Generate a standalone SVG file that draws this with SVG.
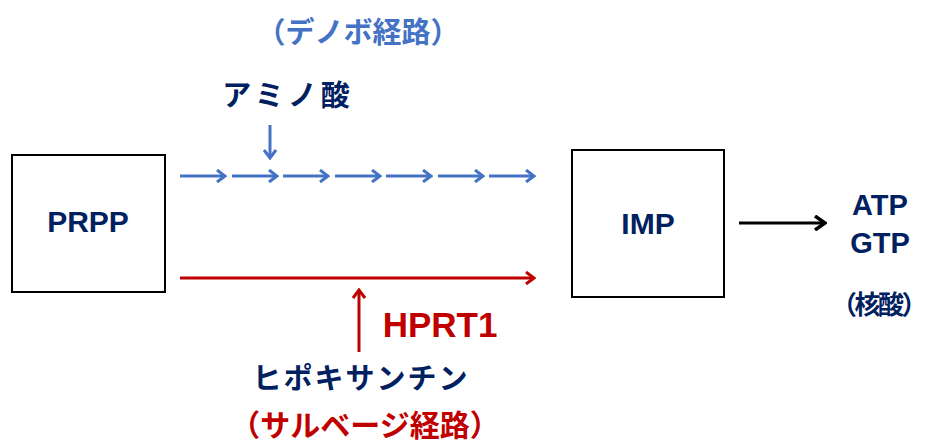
<svg xmlns="http://www.w3.org/2000/svg" width="925" height="444" viewBox="0 0 925 444">
<style>
.box{fill:#fff;stroke:#000;stroke-width:2}
.lbl{font-family:"Liberation Sans",Arial,sans-serif;font-weight:bold;fill:#002060;text-anchor:middle}
.jp{font-family:"Noto Sans CJK JP","Noto Sans",sans-serif;font-weight:bold;text-anchor:middle}
.blue{stroke:#4472C4;stroke-width:3;fill:none}
.red{stroke:#C00000;stroke-width:3;fill:none}
.blk{stroke:#000;stroke-width:3;fill:none}
</style>
<defs>
<marker id="hb" markerUnits="userSpaceOnUse" viewBox="0 0 12 14" markerWidth="12" markerHeight="14" refX="10" refY="7" orient="auto">
<path d="M2,1 L10,7 L2,13" fill="none" stroke="#4472C4" stroke-width="3"/>
</marker>
<marker id="hr" markerUnits="userSpaceOnUse" viewBox="0 0 12 14" markerWidth="12" markerHeight="14" refX="10" refY="7" orient="auto">
<path d="M2,1 L10,7 L2,13" fill="none" stroke="#C00000" stroke-width="3"/>
</marker>
<marker id="hk" markerUnits="userSpaceOnUse" viewBox="0 0 14 16" markerWidth="14" markerHeight="16" refX="12" refY="8" orient="auto">
<path d="M2,1 L12,8 L2,15" fill="none" stroke="#000" stroke-width="3.5"/>
</marker>
</defs>
<g id="prpp">
<rect class="box" x="12" y="155" width="153" height="137"/>
<text class="lbl" x="88" y="232" font-size="30">PRPP</text>
</g>
<g id="imp">
<rect class="box" x="572" y="150" width="152" height="147"/>
<text class="lbl" x="648" y="234" font-size="30">IMP</text>
</g>
<g id="products">
<text class="lbl" x="880" y="215" font-size="29">ATP</text>
<text class="lbl" x="880" y="253" font-size="29">GTP</text>
<text class="jp" x="878" y="314" font-size="26" fill="#002060" letter-spacing="-2.5">（核酸）</text>
</g>
<g id="denovo-label">
<text class="jp" x="358" y="43" font-size="29" fill="#4472C4">（デノボ経路）</text>
</g>
<g id="amino">
<text class="jp" x="288" y="106" font-size="29" fill="#002060" letter-spacing="4">アミノ酸</text>
</g>
<g id="hypoxanthine">
<text class="jp" x="361" y="389" font-size="29" fill="#002060" letter-spacing="2">ヒポキサンチン</text>
</g>
<g id="salvage-label">
<text class="jp" x="365" y="436" font-size="30" fill="#C00000">（サルベージ経路）</text>
</g>
<g id="hprt1">
<text class="lbl" x="440" y="337" font-size="35" style="fill:#C00000">HPRT1</text>
</g>
<g id="connectors">
<line class="blue" x1="180" y1="176" x2="225" y2="176" marker-end="url(#hb)"/>
<line class="blue" x1="232" y1="176" x2="277" y2="176" marker-end="url(#hb)"/>
<line class="blue" x1="283" y1="176" x2="328" y2="176" marker-end="url(#hb)"/>
<line class="blue" x1="335" y1="176" x2="380" y2="176" marker-end="url(#hb)"/>
<line class="blue" x1="386" y1="176" x2="431" y2="176" marker-end="url(#hb)"/>
<line class="blue" x1="438" y1="176" x2="483" y2="176" marker-end="url(#hb)"/>
<line class="blue" x1="489" y1="176" x2="534" y2="176" marker-end="url(#hb)"/>
<line class="blue" x1="270" y1="125" x2="270" y2="158" marker-end="url(#hb)"/>
<line class="red" x1="180" y1="278" x2="534" y2="278" marker-end="url(#hr)"/>
<line class="red" x1="359" y1="352" x2="359" y2="290" marker-end="url(#hr)"/>
<line class="blk" x1="739" y1="223" x2="825" y2="223" marker-end="url(#hk)"/>
</g>
</svg>
